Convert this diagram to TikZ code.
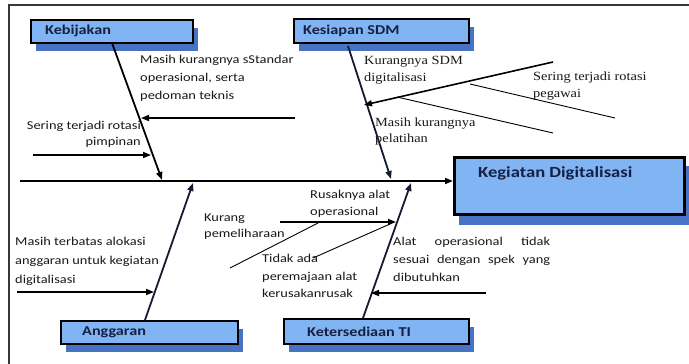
\documentclass[tikz,border=0pt]{standalone}
\usepackage{fontspec}
\setmainfont[FakeStretch=1.2]{Carlito}
\newfontfamily\serifsdm[FakeStretch=1.15]{Liberation Serif}
\usetikzlibrary{arrows.meta,shadows}
\definecolor{boxblue}{RGB}{128,180,242}
\definecolor{shadowblue}{RGB}{70,115,196}
\definecolor{navy}{RGB}{22,32,66}
\definecolor{bonecol}{RGB}{20,28,52}
\definecolor{framegray}{RGB}{55,55,55}
\definecolor{ink}{RGB}{25,25,25}
\begin{document}
\begin{tikzpicture}[x=1pt,y=-1pt,
  catbox/.style={draw=black, line width=1.8pt, fill=boxblue, inner sep=0pt, anchor=north west,
    general shadow={fill=shadowblue, shadow xshift=5pt, shadow yshift=-8pt}},
  cattext/.style={font=\bfseries\fontsize{13.5}{15}\selectfont, text=navy, anchor=west, inner sep=0pt},
  bone/.style={draw=bonecol, line width=1.8pt, -{Triangle[length=8pt,width=6pt]}},
  subarrow/.style={line width=1.6pt, -{Triangle[length=8pt,width=6pt]}},
  thinline/.style={line width=0.9pt},
  cause/.style={font=\fontsize{12}{18}\selectfont, text=ink, inner sep=0pt, align=left, anchor=north west},
  scause/.style={font=\serifsdm\fontsize{12.5}{17}\selectfont, text=ink, inner sep=0pt, align=left, anchor=north west},
]
\useasboundingbox (0,0) rectangle (689,364);
\fill[white] (0,0) rectangle (689,364);
\draw[framegray, line width=1.5pt] (9,364) -- (9,5) -- (689,5);

% category boxes
\node[catbox, minimum width=162pt, minimum height=23pt] (keb) at (30,19) {};
\node[cattext] (kebt) at ([xshift=15pt]keb.west) {Kebijakan};
\node[catbox, minimum width=175pt, minimum height=24pt] (ksp) at (293,18) {};
\node[cattext] (kspt) at ([xshift=10pt]ksp.west) {Kesiapan SDM};
\node[catbox, minimum width=177pt, minimum height=23pt] (ang) at (60,320) {};
\node[cattext] (angt) at ([xshift=22pt]ang.west) {Anggaran};
\node[catbox, minimum width=185pt, minimum height=25pt] (ket) at (283,318) {};
\node[cattext] (kett) at ([xshift=24pt]ket.west) {Ketersediaan TI};
\node[catbox, line width=3pt, minimum width=230pt, minimum height=57pt,
  general shadow={fill=shadowblue, shadow xshift=4pt, shadow yshift=-10pt}] (keg) at (453,156) {};
\node[cattext, font=\bfseries\fontsize{15.5}{17}\selectfont] (kegt) at (478,173) {Kegiatan Digitalisasi};

% spine
\coordinate (sp0) at (20,181);
\draw[bone, draw=black] (sp0) -- (sp0 -| keg.west);

% bones
\coordinate (kb1) at (112,43);  \coordinate (kb2) at (162,180);
\coordinate (ks1) at (348,46);  \coordinate (ks2) at (391,179);
\coordinate (an1) at (145,320); \coordinate (an2) at (193,183);
\coordinate (kt1) at (363,318); \coordinate (kt2) at (411,183);
\draw[bone, draw=black] (kb1) -- (kb2);
\draw[bone] (ks1) -- (ks2);
\draw[bone] (an1) -- (an2);
\draw[bone] (kt1) -- (kt2);

% sub causes: Kebijakan
\coordinate (a1s) at (295,118); \coordinate (a1e) at (141,118);
\draw[subarrow] (a1s) -- (a1e);
\coordinate (a2s) at (33,155);  \coordinate (a2e) at (151,155);
\draw[subarrow] (a2s) -- (a2e);
\node[cause] (c1) at (140,55) {Masih kurangnya sStandar\\operasional, serta\\pedoman teknis};
\node[cause, anchor=north east, align=right, font=\fontsize{12}{16}\selectfont] (c2) at (141,121) {Sering terjadi rotasi\\pimpinan};

% sub causes: Kesiapan SDM
\coordinate (a3s) at (553,62); \coordinate (a3e) at (364,105);
\draw[subarrow] (a3s) -- (a3e);
\coordinate (l1s) at (470,84); \coordinate (l1e) at (615,118);
\draw[thinline] (l1s) -- (l1e);
\coordinate (l2s) at (397,97); \coordinate (l2e) at (553,133);
\draw[thinline] (l2s) -- (l2e);
\node[scause] (s1) at (364,56) {Kurangnya SDM\\digitalisasi};
\node[scause] (s2) at (533,72) {Sering terjadi rotasi\\pegawai};
\node[scause, font=\serifsdm\fontsize{12.5}{16}\selectfont] (s3) at (375,118) {Masih kurangnya\\pelatihan};

% sub causes: Anggaran
\coordinate (a4s) at (17,292); \coordinate (a4e) at (154,292);
\draw[subarrow] (a4s) -- (a4e);
\node[cause, font=\fontsize{12}{19}\selectfont] (c3) at (15,237) {Masih terbatas alokasi\\anggaran untuk kegiatan\\digitalisasi};

% sub causes: Ketersediaan TI
\coordinate (a5s) at (486,293); \coordinate (a5e) at (371,293);
\draw[subarrow] (a5s) -- (a5e);
\coordinate (a6s) at (280,222); \coordinate (a6e) at (396,222);
\draw[subarrow] (a6s) -- (a6e);
\coordinate (l3s) at (230,268); \coordinate (l3e) at (318,223);
\draw[thinline] (l3s) -- (l3e);
\coordinate (l4s) at (313,258); \coordinate (l4e) at (390,224);
\draw[thinline] (l4s) -- (l4e);
\node[cause, font=\fontsize{12}{16}\selectfont] (c4) at (204,214) {Kurang\\pemeliharaan};
\node[cause, font=\fontsize{12}{17}\selectfont] (c5) at (310,190) {Rusaknya alat\\operasional};
\node[cause, font=\fontsize{12}{17.5}\selectfont] (c6) at (262,254) {Tidak ada\\peremajaan alat\\kerusakanrusak};
\node[cause, text width=157pt, align=justify] (c7) at (393,237) {Alat operasional tidak sesuai dengan spek yang dibutuhkan};
\end{tikzpicture}
\end{document}
